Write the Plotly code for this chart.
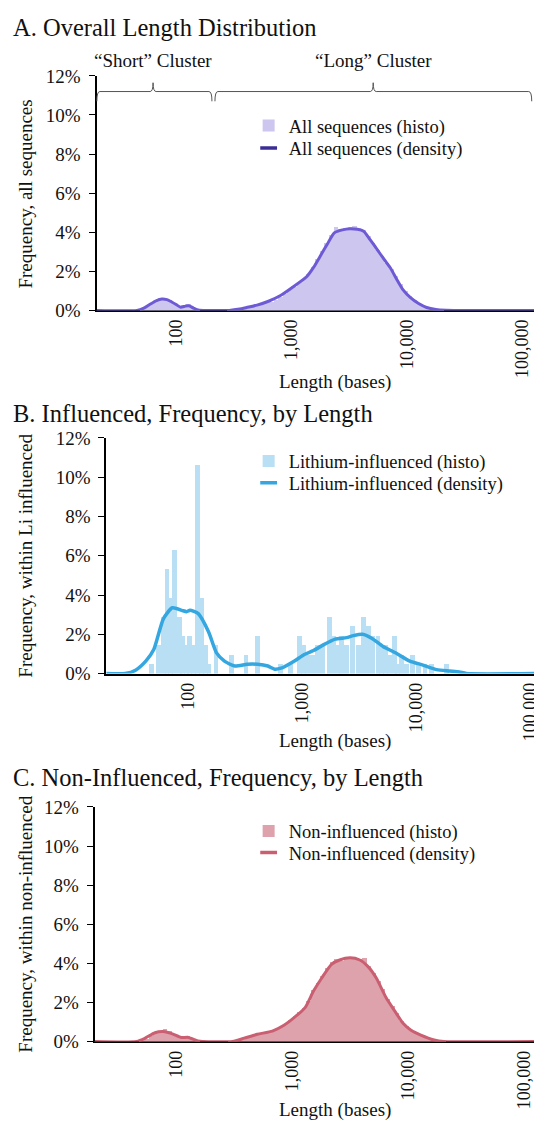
import plotly.graph_objects as go

FONT = "Liberation Serif"
BIN_W = 0.04                 # histogram bin width, in log10(length)
BIN_W_B = 0.042

x_tick_vals = [100, 1000, 10000, 100000]
x_tick_text = ["100", "1,000", "10,000", "100,000"]

# ---------------- Panel A: all sequences ----------------
a_hist_log = [1.70, 1.74, 1.78, 1.82, 1.86, 1.90, 1.94, 1.98, 2.02, 2.06, 2.10, 2.14, 2.18,
              2.46, 2.50, 2.54, 2.58, 2.62, 2.66, 2.70, 2.74, 2.78, 2.82, 2.86, 2.90, 2.94,
              2.98, 3.02, 3.06, 3.10, 3.14, 3.18, 3.22, 3.26, 3.30, 3.34, 3.38, 3.42, 3.46,
              3.50, 3.54, 3.58, 3.62, 3.66, 3.70, 3.74, 3.78, 3.82, 3.86, 3.90, 3.94, 3.98,
              4.02, 4.06, 4.10, 4.14, 4.18, 4.22, 4.26, 4.30]
a_hist_pct = [0.05, 0.20, 0.35, 0.50, 0.62, 0.66, 0.52, 0.35, 0.20, 0.30, 0.32, 0.12, 0.03,
              0.02, 0.05, 0.08, 0.12, 0.17, 0.22, 0.27, 0.32, 0.38, 0.44, 0.55, 0.68, 0.85,
              1.05, 1.22, 1.40, 1.60, 1.85, 2.25, 2.65, 3.05, 3.45, 3.85, 4.25, 4.15, 4.20,
              4.25, 4.30, 4.20, 4.12, 3.80, 3.45, 3.12, 2.80, 2.45, 2.10, 1.75, 1.38, 1.02,
              0.75, 0.52, 0.35, 0.22, 0.13, 0.07, 0.04, 0.02]
a_dens_log = [1.29, 1.66, 1.72, 1.77, 1.83, 1.876, 1.92, 1.95, 2.00, 2.04, 2.08, 2.11, 2.15,
              2.20, 2.25, 2.46, 2.55, 2.61, 2.70, 2.80, 2.90, 3.00, 3.13, 3.19, 3.25, 3.31,
              3.37, 3.44, 3.505, 3.57, 3.624, 3.68, 3.74, 3.80, 3.86, 3.91, 3.966, 4.03,
              4.10, 4.17, 4.25, 4.34, 4.45, 5.12]
a_dens_pct = [0.00, 0.00, 0.12, 0.30, 0.50, 0.58, 0.55, 0.47, 0.30, 0.16, 0.22, 0.24, 0.12,
              0.01, 0.00, 0.00, 0.07, 0.15, 0.27, 0.47, 0.75, 1.15, 1.72, 2.20, 2.80, 3.40,
              3.97, 4.12, 4.18, 4.15, 4.05, 3.62, 3.13, 2.62, 2.13, 1.60, 1.05, 0.65,
              0.35, 0.15, 0.05, 0.01, 0.00, 0.00]

# ---------------- Panel B: lithium-influenced ----------------
b_hist_log = [1.687, 1.748, 1.786, 1.820, 1.852, 1.887, 1.928, 1.959, 1.988, 2.017, 2.049,
              2.084, 2.122, 2.154, 2.188, 2.249, 2.386, 2.513, 2.612, 2.814, 2.905, 2.980,
              3.020, 3.052, 3.093, 3.142, 3.180, 3.243, 3.284, 3.319, 3.348, 3.394, 3.446,
              3.496, 3.545, 3.583, 3.626, 3.670, 3.700, 3.736, 3.774, 3.812, 3.843, 3.878,
              3.920, 3.974, 4.026, 4.081, 4.142, 4.270]
b_hist_pct = [0.48, 1.44, 2.88, 5.30, 3.85, 6.30, 2.88, 1.92, 1.44, 1.92, 1.44,
              10.60, 3.85, 1.44, 0.48, 1.44, 0.96, 0.96, 1.92, 0.48, 0.48, 1.92,
              1.44, 0.96, 0.96, 1.44, 1.44, 2.88, 1.92, 1.44, 1.92, 1.44, 2.40,
              1.44, 2.88, 2.40, 1.92, 1.92, 1.44, 1.44, 0.96, 1.92, 0.48, 0.96,
              0.48, 0.96, 0.48, 0.48, 0.48, 0.48]
b_dens_log = [1.28, 1.45, 1.54, 1.63, 1.70, 1.785, 1.863, 1.945, 1.988, 2.017, 2.09, 2.18,
              2.25, 2.32, 2.41, 2.52, 2.61, 2.70, 2.76, 2.815, 2.93, 3.02, 3.10, 3.19, 3.29,
              3.39, 3.45, 3.53, 3.61, 3.71, 3.83, 3.945, 4.06, 4.18, 4.29, 4.38, 4.44, 5.08]
b_dens_pct = [0.00, 0.00, 0.17, 0.63, 1.22, 2.80, 3.35, 3.22, 3.15, 3.22, 3.05, 2.13,
              1.05, 0.63, 0.38, 0.47, 0.47, 0.38, 0.22, 0.27, 0.63, 0.97, 1.17, 1.47, 1.75,
              1.83, 1.93, 2.00, 1.80, 1.38, 1.02, 0.63, 0.43, 0.20, 0.13, 0.08, 0.00, 0.00]

# ---------------- Panel C: non-influenced ----------------
c_hist_log = a_hist_log
c_hist_pct = [0.04, 0.15, 0.30, 0.45, 0.55, 0.64, 0.52, 0.38, 0.25, 0.22, 0.30, 0.15, 0.04,
              0.02, 0.06, 0.10, 0.16, 0.22, 0.30, 0.37, 0.42, 0.46, 0.52, 0.60, 0.75, 0.90,
              1.10, 1.32, 1.50, 1.72, 2.05, 2.65, 3.00, 3.35, 3.75, 4.05, 4.20, 4.10, 4.22,
              4.32, 4.28, 4.22, 4.25, 3.85, 3.50, 3.10, 2.70, 2.20, 1.80, 1.45, 1.05, 0.78,
              0.60, 0.45, 0.33, 0.22, 0.13, 0.08, 0.04, 0.02]
c_dens_log = [1.29, 1.66, 1.733, 1.818, 1.903, 1.974, 2.045, 2.10, 2.188, 2.23, 2.487, 2.587,
              2.70, 2.83, 2.93, 3.03, 3.114, 3.185, 3.256, 3.34, 3.41, 3.50, 3.584, 3.655,
              3.726, 3.81, 3.883, 3.955, 4.026, 4.11, 4.225, 4.31, 5.10]
c_dens_pct = [0.00, 0.00, 0.17, 0.45, 0.50, 0.38, 0.20, 0.22, 0.03, 0.00, 0.00, 0.17,
              0.37, 0.53, 0.83, 1.28, 1.75, 2.58, 3.25, 3.95, 4.17, 4.28, 4.17, 3.83,
              3.25, 2.25, 1.58, 0.95, 0.58, 0.33, 0.08, 0.00, 0.00]

# cluster braces (log10 length): left end, peak, right end
brace_short = [1.313, 1.80, 2.31]
brace_long = [2.336, 3.707, 5.08]

# ---------------- layout geometry ----------------
# The page body has an 8px margin, so the figure is sized to fit inside it and
# positions below are given in window pixels.
OFF = 8
W, H = 542 - OFF, 1139 - 2 * OFF


def fx(p):
    return (p - OFF) / W


def fy(p):
    return 1 - (p - OFF) / H


panels = {
    1: dict(x=[fx(97), fx(537)], y=[fy(306), fy(67)], rng=[1.31, 5.10], leg=[118, 141]),
    2: dict(x=[fx(107), fx(540)], y=[fy(676), fy(436)], rng=[1.285, 5.06], leg=[460, 482]),
    3: dict(x=[fx(95), fx(537)], y=[fy(1051), fy(812)], rng=[1.297, 5.086], leg=[837, 859]),
}

fig = go.Figure()


def add_panel(idx, hl, hp, dl, dp, hcol, lcol, legcol, names, lw, bw):
    sx = "" if idx == 1 else str(idx)
    xa, ya = f"x{sx}", f"y{sx}"
    lg1, lg2 = f"legend{2 * idx - 1 if idx > 1 else ''}", f"legend{2 * idx}"
    lefts = [10 ** (c - bw / 2) for c in hl]
    widths = [10 ** (c + bw / 2) - 10 ** (c - bw / 2) for c in hl]
    fig.add_trace(go.Bar(x=lefts, y=hp, width=widths, offset=0,
                         marker=dict(color=hcol, line=dict(width=0)),
                         name=names[0], xaxis=xa, yaxis=ya, legend=lg1))
    fig.add_trace(go.Scatter(x=[10 ** v for v in dl], y=dp, mode="lines",
                             line=dict(color=lcol, width=lw, shape="spline", smoothing=0.6),
                             name=names[1], xaxis=xa, yaxis=ya, showlegend=False))
    # legend key for the density line (short dash, as in the reference legend)
    fig.add_trace(go.Scatter(x=[None], y=[None], mode="markers", name=names[1],
                             marker=dict(symbol="line-ew", size=12,
                                         line=dict(width=3.5, color=legcol)),
                             xaxis=xa, yaxis=ya, legend=lg2))


add_panel(1, a_hist_log, a_hist_pct, a_dens_log, a_dens_pct, "#CDC6EE", "#6F5AD5", "#3A2E96",
          ["All sequences (histo)", "All sequences (density)"], 3, BIN_W)
add_panel(2, b_hist_log, b_hist_pct, b_dens_log, b_dens_pct, "#B8DFF3", "#34A6E0", "#34A6E0",
          ["Lithium-influenced (histo)", "Lithium-influenced (density)"], 3.5, BIN_W_B)
add_panel(3, c_hist_log, c_hist_pct, c_dens_log, c_dens_pct, "#DEA2AC", "#C95F71", "#C95F71",
          ["Non-influenced (histo)", "Non-influenced (density)"], 3, BIN_W)

axis_x = dict(type="log", tickvals=x_tick_vals, ticktext=x_tick_text,
              tickangle=-90, ticks="", showline=True, linecolor="black", linewidth=2,
              showgrid=False, zeroline=False, layer="below traces",
              ticklabeloverflow="allow",
              tickfont=dict(family=FONT, size=18, color="#111"))
axis_y = dict(range=[0, 12], dtick=2, ticksuffix="%", ticks="outside", ticklen=6,
              tickcolor="black", tickwidth=1, showline=True, linecolor="black", linewidth=2,
              showgrid=False, zeroline=False, ticklabelstandoff=4,
              tickfont=dict(family=FONT, size=19, color="#111"))

leg_common = dict(xanchor="left", yanchor="middle", bgcolor="rgba(0,0,0,0)",
                  font=dict(family=FONT, size=18.5, color="#111"), itemwidth=30,
                  borderwidth=0)
for i, p in panels.items():
    sx = "" if i == 1 else str(i)
    fig.update_layout(**{
        f"xaxis{sx}": dict(axis_x, domain=p["x"], range=p["rng"], anchor=f"y{sx}"),
        f"yaxis{sx}": dict(axis_y, domain=p["y"], anchor=f"x{sx}"),
    })
    l1 = "legend" if i == 1 else f"legend{2 * i - 1}"
    l2 = f"legend{2 * i}"
    fig.update_layout(**{
        l1: dict(leg_common, x=fx(250), y=fy(p["leg"][0])),
        l2: dict(leg_common, x=fx(250), y=fy(p["leg"][1])),
    })

ann = []
titles = [("A. Overall Length Distribution", 18), ("B. Influenced, Frequency, by Length", 411),
          ("C. Non-Influenced, Frequency, by Length", 782)]
for t, yp in titles:
    ann.append(dict(text=t, x=fx(11), y=fy(yp), xref="paper", yref="paper",
                    xanchor="left", yanchor="middle", showarrow=False,
                    font=dict(family=FONT, size=24.5, color="#111")))
for yp in [379, 745, 1121]:
    ann.append(dict(text="Length (bases)", x=fx(337), y=fy(yp), xref="paper", yref="paper",
                    xanchor="center", yanchor="middle", showarrow=False,
                    font=dict(family=FONT, size=19, color="#111")))
for t, yp in [("Frequency, all sequences", 187), ("Frequency, within Li influenced", 556),
              ("Frequency, within non-influenced", 931)]:
    ann.append(dict(text=t, x=fx(26), y=fy(yp), xref="paper", yref="paper",
                    xanchor="center", yanchor="middle", showarrow=False, textangle=-90,
                    font=dict(family=FONT, size=19, color="#111")))

pA = panels[1]


def px(lg):
    r0, r1 = pA["rng"]
    return pA["x"][0] + (lg - r0) / (r1 - r0) * (pA["x"][1] - pA["x"][0])


def py(pct):
    return pA["y"][0] + pct / 12 * (pA["y"][1] - pA["y"][0])


shapes = []
dx = 3 / W
for (l0, pk, l1), label in [(brace_short, "\u201cShort\u201d Cluster"), (brace_long, "\u201cLong\u201d Cluster")]:
    x0, xp, x1 = px(l0), px(pk), px(l1)
    yh, yt, ye = py(11.2), py(11.65), py(10.7)
    path = (f"M{x0},{ye} Q{x0},{yh} {x0 + dx},{yh} L{xp - dx},{yh} Q{xp},{yh} {xp},{yt} "
            f"Q{xp},{yh} {xp + dx},{yh} L{x1 - dx},{yh} Q{x1},{yh} {x1},{ye}")
    shapes.append(dict(type="path", path=path, xref="paper", yref="paper",
                       line=dict(color="#555", width=1)))
    ann.append(dict(text=label, x=xp, y=fy(51), xref="paper", yref="paper",
                    xanchor="center", yanchor="middle", showarrow=False,
                    font=dict(family=FONT, size=19, color="#111")))

fig.update_layout(width=W, height=H, margin=dict(l=0, r=0, t=0, b=0),
                  paper_bgcolor="white", plot_bgcolor="white",
                  font=dict(family=FONT, size=18, color="#111"),
                  annotations=ann, shapes=shapes, barmode="overlay", bargap=0)

fig.write_html("out.html")
